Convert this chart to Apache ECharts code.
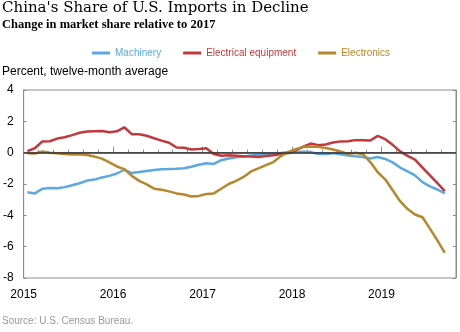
<!DOCTYPE html>
<html><head><meta charset="utf-8">
<script src="https://cdn.jsdelivr.net/npm/echarts@6/dist/echarts.min.js"></script>
<style>html,body{margin:0;padding:0;background:#fff}#c{width:460px;height:332px}</style>
</head><body><div id="c"></div>
<script>
// Monthly categories, Jan 2015 .. Sep 2019
const months = [
 '2015-01','2015-02','2015-03','2015-04','2015-05','2015-06','2015-07','2015-08','2015-09','2015-10','2015-11','2015-12',
 '2016-01','2016-02','2016-03','2016-04','2016-05','2016-06','2016-07','2016-08','2016-09','2016-10','2016-11','2016-12',
 '2017-01','2017-02','2017-03','2017-04','2017-05','2017-06','2017-07','2017-08','2017-09','2017-10','2017-11','2017-12',
 '2018-01','2018-02','2018-03','2018-04','2018-05','2018-06','2018-07','2018-08','2018-09','2018-10','2018-11','2018-12',
 '2019-01','2019-02','2019-03','2019-04','2019-05','2019-06','2019-07','2019-08','2019-09'
];
const yearLabels = ['2015','2016','2017','2018','2019'];
const machinery = [
 -2.53,-2.6,-2.3,-2.25,-2.27,-2.2,-2.08,-1.95,-1.78,-1.72,-1.58,-1.48,
 -1.33,-1.09,-1.3,-1.24,-1.17,-1.1,-1.06,-1.05,-1.03,-1.0,-0.9,-0.77,
 -0.67,-0.72,-0.48,-0.37,-0.29,-0.24,-0.18,-0.13,-0.08,-0.04,-0.02,0.02,
 0.05,0.06,0.05,-0.09,-0.09,-0.03,-0.1,-0.18,-0.23,-0.28,-0.37,-0.28,
 -0.4,-0.62,-0.95,-1.2,-1.45,-1.88,-2.15,-2.35,-2.6
];
const electrical = [
 0.1,0.28,0.72,0.73,0.9,0.98,1.12,1.27,1.35,1.37,1.38,1.3,
 1.36,1.62,1.18,1.18,1.08,0.92,0.77,0.63,0.33,0.31,0.2,0.23,
 0.28,-0.08,-0.2,-0.17,-0.2,-0.23,-0.25,-0.28,-0.22,-0.17,-0.08,-0.02,
 0.15,0.38,0.58,0.48,0.52,0.65,0.72,0.73,0.8,0.8,0.78,1.07,
 0.86,0.5,0.08,-0.2,-0.45,-0.95,-1.45,-1.95,-2.45
];
const electronics = [
 -0.03,-0.05,0.07,0.0,-0.03,-0.08,-0.11,-0.1,-0.15,-0.25,-0.38,-0.62,
 -0.88,-1.05,-1.48,-1.8,-2.02,-2.3,-2.37,-2.47,-2.6,-2.67,-2.8,-2.76,
 -2.64,-2.6,-2.3,-2.0,-1.8,-1.55,-1.2,-1.0,-0.8,-0.6,-0.22,0.05,
 0.22,0.36,0.4,0.37,0.3,0.2,0.08,-0.08,0.0,-0.1,-0.6,-1.25,
 -1.7,-2.4,-3.1,-3.6,-3.95,-4.12,-4.85,-5.6,-6.4
];
const seriesNames = ['Machinery','Electrical equipment','Electronics'];
const colors = ['#5aa9e4','#c1393c','#b8862b'];

const toXY = arr => arr.map((v,i)=>[i+0.5, v]);
const totalMonths = 58;

const chart = echarts.init(document.getElementById('c'));
const lineSeries = [machinery, electrical, electronics].map((arr,k)=>({
  name: seriesNames[k], type:'line', data: toXY(arr), showSymbol:false, symbol:'none',
  lineStyle:{color:colors[k], width:2.5}, itemStyle:{color:colors[k]}, z:3, animation:false
}));
chart.setOption({
  animation:false,
  textStyle:{fontFamily:'Liberation Sans, Arial, sans-serif'},
  grid:{left:23.5, right:4, top:90, height:188, show:true, borderColor:'#8c8c8c', borderWidth:1},
  legend:{
    data: seriesNames.map((n,k)=>({name:n, textStyle:{color:colors[k]}})),
    left:92, top:45, padding:[3,0,0,0], itemWidth:18, itemHeight:3, itemGap:22, icon:'rect',
    textStyle:{fontSize:10, fontFamily:'Liberation Sans, Arial, sans-serif'}
  },
  xAxis:{
    type:'value', min:0, max:totalMonths, interval:12,
    axisLine:{show:true, lineStyle:{color:'#8c8c8c', width:1}},
    axisTick:{show:true, inside:true, length:6, lineStyle:{color:'#8c8c8c'}},
    minorTick:{show:true, splitNumber:6, length:3, lineStyle:{color:'#8c8c8c'}},
    splitLine:{show:false},
    axisLabel:{color:'#000', fontSize:12, margin:11, showMaxLabel:false,
      formatter:v=> (v%12===0 && v/12 < yearLabels.length) ? yearLabels[v/12] : ''}
  },
  yAxis:[{
    type:'value', min:-8, max:4, interval:2, position:'left',
    axisLine:{show:true, lineStyle:{color:'#8c8c8c'}},
    axisTick:{show:true, inside:true, length:3, lineStyle:{color:'#8c8c8c'}},
    splitLine:{show:false},
    axisLabel:{color:'#000', fontSize:12, margin:10}
  },{
    type:'value', min:-8, max:4, interval:2, position:'right',
    axisLine:{show:true, lineStyle:{color:'#8c8c8c'}},
    axisTick:{show:true, inside:true, length:3, lineStyle:{color:'#8c8c8c'}},
    splitLine:{show:false}, axisLabel:{show:false}
  }],
  series:[{
    type:'line', data:[], z:2,
    markLine:{silent:true, symbol:'none', label:{show:false}, animation:false,
      lineStyle:{color:'#333', width:1.5, type:'solid'}, data:[{yAxis:0}]}
  }].concat(lineSeries),
  graphic:[
    {type:'text', left:2, top:1, style:{text:"China's Share of U.S. Imports in Decline", font:'15px "DejaVu Serif", serif', fill:'#000'}},
    {type:'text', left:2, top:18, style:{text:'Change in market share relative to 2017', font:'bold 12.5px "Liberation Serif", serif', fill:'#000'}},
    {type:'text', left:2, top:66, style:{text:'Percent, twelve-month average', font:'12px "Liberation Sans", Arial, sans-serif', fill:'#000'}},
    {type:'text', left:2, top:316, style:{text:'Source: U.S. Census Bureau.', font:'10px "Liberation Sans", Arial, sans-serif', fill:'#999'}}
  ]
});
</script></body></html>
